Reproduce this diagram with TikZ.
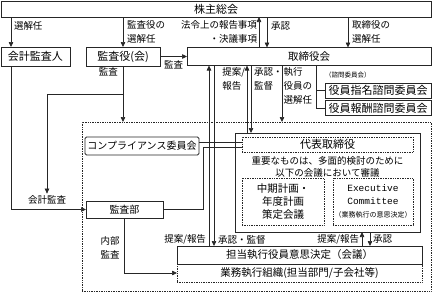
\documentclass[tikz,border=0pt]{standalone}
\usepackage{fontspec}
\setmainfont{Noto Sans CJK JP}
\newfontfamily\execfont{Liberation Mono}
\usepackage{tikz}
\usetikzlibrary{arrows.meta, positioning, calc}

\begin{document}
\begin{tikzpicture}[
    x=1pt, y=-1pt,
    every node/.style={align=center, inner sep=0pt, outer sep=0pt},
    block/.style={rectangle, draw=black!85, line width=0.7pt, font=\fontsize{10.5}{13}\selectfont},
    dotblock/.style={block, densely dotted},
    lbl/.style={font=\fontsize{9.5}{14}\selectfont},
    arrow/.style={-{Triangle[length=5pt, width=4.5pt]}, line width=0.7pt, draw=black!85},
    link/.style={line width=0.7pt, draw=black!85}
]

\useasboundingbox (0,0) rectangle (432,293);

% Top: 株主総会
\node (soukai) [block, minimum width=430pt, minimum height=16pt, font=\fontsize{11}{13}\selectfont] at (216, 9) {株主総会};

% 会計監査人 / 監査役(会) / 取締役会
\node (kaikei) [block, minimum width=69pt, minimum height=19pt, font=\fontsize{11}{13}\selectfont] at (35.5, 56.5) {会計監査人};
\node (kansayaku) [block, minimum width=74pt, minimum height=19pt, font=\fontsize{11}{13}\selectfont] at (123, 56.5) {監査役(会)};
\node (torishimari) [block, minimum width=244pt, minimum height=18pt] at (309, 56.5) {取締役会};

% 諮問委員会
\node (shimon) [anchor=west, font=\fontsize{6.5}{8}\selectfont] at (325, 75) {（諮問委員会）};
\node (shimei) [block, minimum width=106pt, minimum height=15pt, font=\fontsize{11}{13}\selectfont] at (378, 90.5) {役員指名諮問委員会};
\node (houshu) [block, minimum width=106pt, minimum height=15pt, font=\fontsize{11}{13}\selectfont, below=2.5pt of shimei] {役員報酬諮問委員会};

% Dotted area of the executive side
\node (region) [dotblock, minimum width=349pt, minimum height=169pt] at (256.5, 206.5) {};

% コンプライアンス委員会 / 監査部
\node (comp) [block, rounded corners=1.5pt, line width=0.9pt, minimum width=114pt, minimum height=18pt, font=\fontsize{10}{12}\selectfont] at (142, 146) {コンプライアンス委員会};
\node (kansabu) [block, minimum width=77pt, minimum height=17pt, font=\fontsize{10}{12}\selectfont] at (124.5, 209.5) {監査部};
\node (kaikeikansa) [lbl] at (47, 200) {会計監査};

% 代表取締役 and its meetings
\node (group) [block, minimum width=185pt, minimum height=99pt] at (327.5, 182.5) {};
\node (daihyo) [dotblock, minimum width=171pt, minimum height=15pt, font=\fontsize{11}{13}\selectfont] at (327.5, 144.5) {代表取締役};
\node (juyo) [font=\fontsize{9.5}{12.5}\selectfont] at (327.5, 167) {重要なものは、多面的検討のために\\以下の会議において審議};
\node (chuki) [dotblock, minimum width=82pt, minimum height=47pt, font=\fontsize{10.5}{13}\selectfont] at (283, 201.5) {中期計画・\\年度計画\\策定会議};
\node (excom) [dotblock, minimum width=80pt, minimum height=47pt, font=\execfont\fontsize{9.5}{13}\selectfont] at (373, 201.5) {Executive\\Committee\\{\normalfont\fontsize{7}{10}\selectfont （業務執行の意思決定）}};

% 担当執行役員意思決定 / 業務執行組織
\node (tanto) [block, minimum width=245pt, minimum height=18pt] at (299.5, 255) {担当執行役員意思決定（会議）};
\node (gyomu) [dotblock, minimum width=245pt, minimum height=18pt, below=0pt of tanto] {業務執行組織(担当部門/子会社等)};

% Arrows from 株主総会
\draw [arrow] (soukai.south -| 11,0) -- (kaikei.north -| 11,0)
    node [lbl, pos=0.3, anchor=west, xshift=3pt] {選解任};
\draw [arrow] (soukai.south -| kansayaku.north) -- (kansayaku.north)
    node [lbl, midway, anchor=west, xshift=4pt, align=left] {監査役の\\選解任};
\draw [arrow] (torishimari.north -| 259,0) -- (soukai.south -| 259,0)
    node [lbl, midway, anchor=east, xshift=-2pt, align=right] {法令上の報告事項\\・決議事項};
\draw [arrow] (soukai.south -| 267,0) -- (torishimari.north -| 267,0)
    node [lbl, pos=0.3, anchor=west, xshift=4pt] {承認};
\draw [arrow] (soukai.south -| 348,0) -- (torishimari.north -| 348,0)
    node [lbl, midway, anchor=west, xshift=4pt, align=left] {取締役の\\選解任};

% 監査役(会)
\draw [arrow] (kansayaku.east) -- (torishimari.west) node [lbl, midway, below=4pt] {監査};
\draw [arrow] (kansayaku.south) -- (kansayaku.south |- region.north)
    node [lbl, pos=0.1, anchor=east, xshift=-5pt] {監査};
\draw [arrow, shorten >=2pt] (kansayaku.south |- 0,94) -| (kaikeikansa.north);

% 会計監査人 and 監査部
\draw [arrow] (kaikei.south -| 11,0) |- (kansabu.west);
\draw [arrow] (kansabu.south) |- (gyomu.west)
    node [lbl, pos=0.27, anchor=east, xshift=-5pt] {内部\\監査};
\draw [link] (kansabu.east) -- (kansabu.east -| 203,0) |- ([yshift=-2.5pt]daihyo.west);
\draw [link] ([yshift=4pt]comp.east) -- ([yshift=2.5pt]daihyo.west);

% 取締役会 and the executive side
\draw [arrow] (tanto.north -| 209,0) -- (torishimari.south -| 209,0)
    node [lbl, pos=0.035, anchor=east, xshift=-3pt] {提案/報告};
\draw [arrow] (torishimari.south -| 214,0) -- (tanto.north -| 214,0)
    node [lbl, pos=0.965, anchor=west, xshift=4pt] {承認・監督};
\draw [arrow] (group.north -| 247,0) -- (torishimari.south -| 247,0)
    node [lbl, pos=0.8, anchor=east, xshift=-2pt, align=left] {提案/\\報告};
\draw [arrow] (torishimari.south -| 251,0) -- (group.north -| 251,0)
    node [lbl, pos=0.2, anchor=west, xshift=3pt, align=left] {承認・\\監督};
\draw [arrow] (torishimari.south -| 282,0) -- (region.north -| 282,0)
    node [lbl, pos=0.36, anchor=west, xshift=1.5pt, align=left] {執行\\役員の\\選解任};
\draw [link] (torishimari.south -| 316,0) |- (houshu.west);
\draw [link] (shimei.west -| 316,0) -- (shimei.west);

% 代表取締役 and 担当執行役員
\draw [arrow] (tanto.north -| 362,0) -- (group.south -| 362,0)
    node [lbl, midway, anchor=east, xshift=-3pt] {提案/報告};
\draw [arrow] (group.south -| 370,0) -- (tanto.north -| 370,0)
    node [lbl, midway, anchor=west, xshift=3pt] {承認};

\end{tikzpicture}
\end{document}
